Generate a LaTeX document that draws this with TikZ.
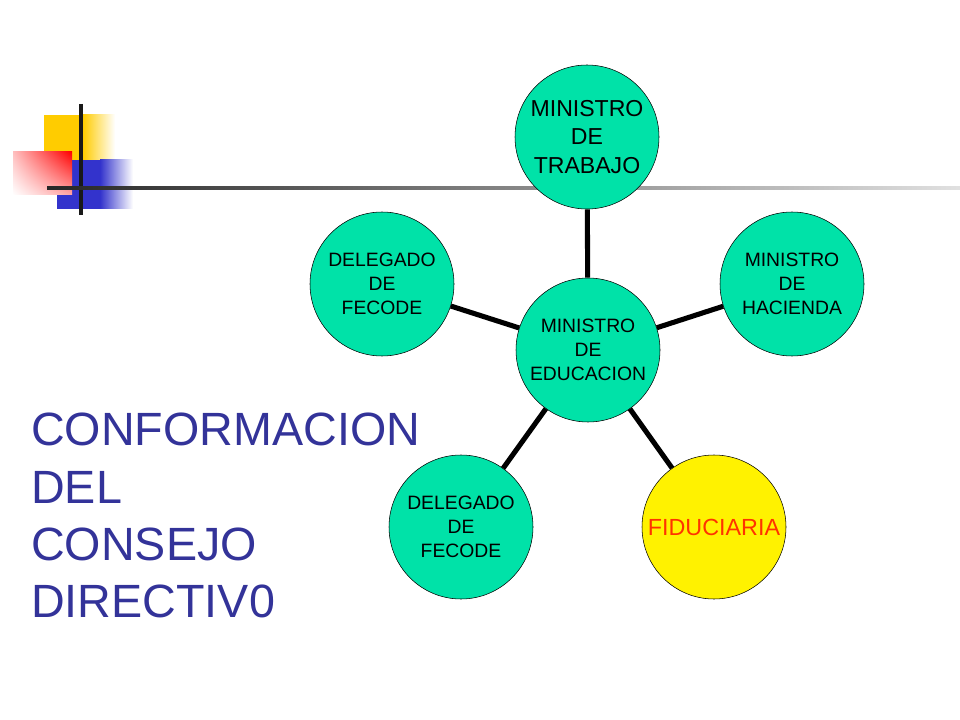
\documentclass[tikz,border=0pt]{standalone}
\usepackage{fontspec}
\setmainfont{Liberation Sans}
\usetikzlibrary{shadings}
\definecolor{memberfill}{RGB}{0,226,168}
\definecolor{titleblue}{RGB}{51,51,153}
\definecolor{decoyellow}{RGB}{255,204,0}
\definecolor{decoblue}{RGB}{51,51,204}
\definecolor{fiducred}{RGB}{255,51,0}

\begin{document}
\begin{tikzpicture}[x=0.75pt,y=-0.75pt,
  member/.style={circle,draw=black,thin,fill=memberfill,minimum size=108pt,
    inner sep=0pt,align=center,font=\fontsize{14.5}{17.8}\selectfont},
  connector/.style={line width=3.8pt}]
\useasboundingbox (0,0) rectangle (960,720);

% corner squares
\fill[decoyellow] (44,115) rectangle (83,160);
\shade[left color=decoyellow,right color=white] (83,115) rectangle (115,160);
\fill[decoblue] (57,160) rectangle (100,209);
\shade[left color=decoblue,right color=white] (100,160) rectangle (133,209);
\shade[upper right=red,upper left=red!25,lower right=red!35,lower left=white] (13,152) rectangle (72,195);

% corner lines
\draw[line width=2.5pt,black!90] (81,104) -- (81,215);
\shade[left color=black!85,right color=black!12] (47,186.5) rectangle (960,189.5);

% title
\node[anchor=north west,inner sep=0pt,align=left,text=titleblue,
  font=\fontsize{35}{43}\selectfont] (title) at (31,413)
  {CONFORMACION\\DEL\\CONSEJO\\DIRECTIV0};

% circles
\node[member] (educacion) at (588,350) {MINISTRO\\DE\\EDUCACION};
\node[member,font=\fontsize{17.3}{21.4}\selectfont] (trabajo) at (587,137) {MINISTRO\\DE\\TRABAJO};
\node[member] (hacienda) at (792,284) {MINISTRO\\DE\\HACIENDA};
\node[member,fill=yellow,text=fiducred,font=\fontsize{17.5}{20}\selectfont] (fiduciaria) at (714,527) {FIDUCIARIA};
\node[member] (fecodeb) at (461,527) {DELEGADO\\DE\\FECODE};
\node[member] (fecodea) at (382,284) {DELEGADO\\DE\\FECODE};

% connectors
\foreach \name in {trabajo,hacienda,fiduciaria,fecodeb,fecodea}
\draw[connector] (educacion) -- (\name);
\end{tikzpicture}
\end{document}
